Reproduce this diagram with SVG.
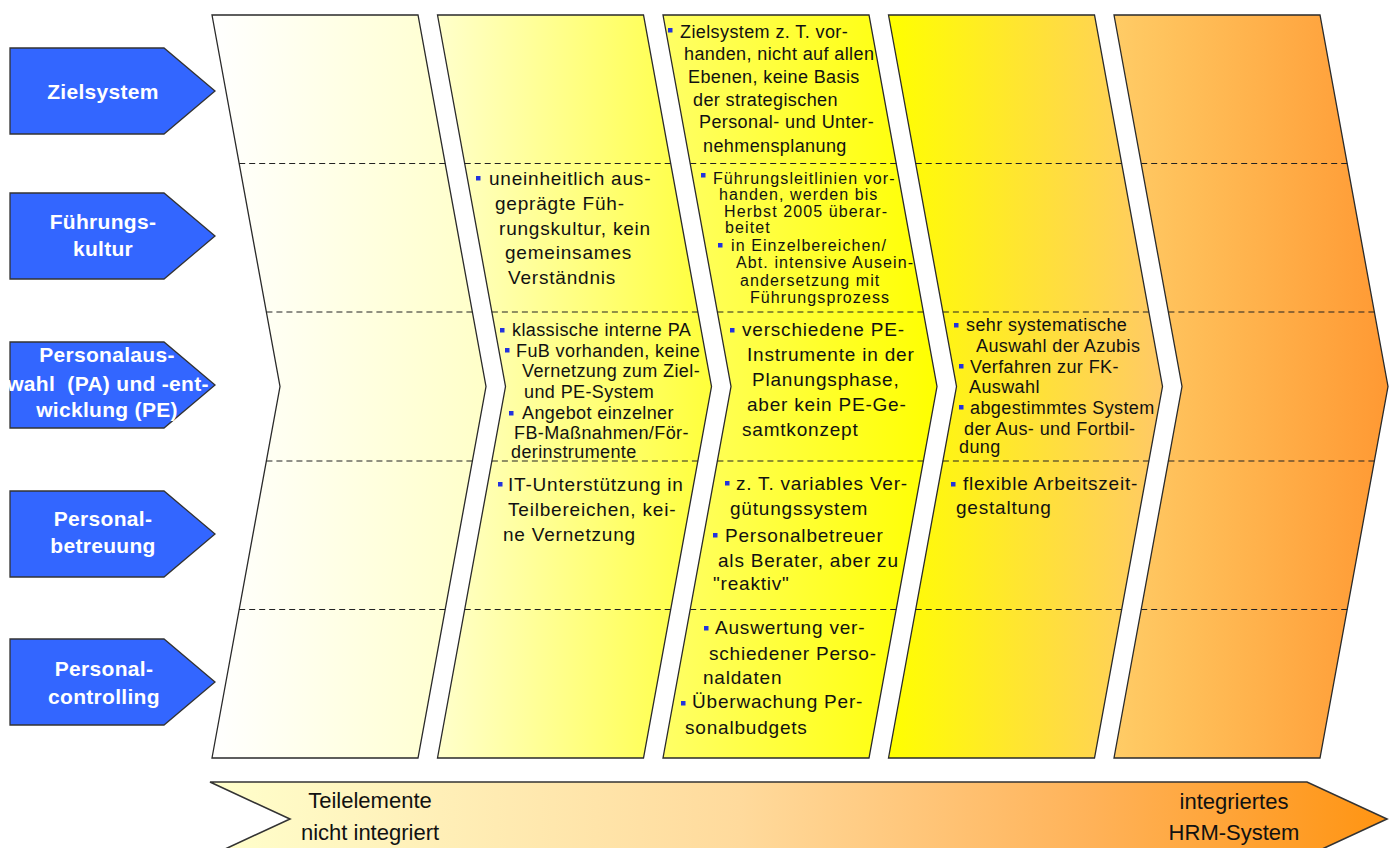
<svg xmlns="http://www.w3.org/2000/svg" width="1394" height="848" viewBox="0 0 1394 848">
<defs>
<linearGradient id="g1" x1="0" y1="0" x2="1" y2="0"><stop offset="0" stop-color="#FFFFFF"/><stop offset="1" stop-color="#FFFFC8"/></linearGradient>
<linearGradient id="g2" x1="0" y1="0" x2="1" y2="0"><stop offset="0" stop-color="#FFFFCC"/><stop offset="1" stop-color="#FFFF3A"/></linearGradient>
<linearGradient id="g3" x1="0" y1="0" x2="1" y2="0"><stop offset="0" stop-color="#FFFF66"/><stop offset="1" stop-color="#FFFF00"/></linearGradient>
<linearGradient id="g4" x1="0" y1="0" x2="1" y2="0"><stop offset="0" stop-color="#FFFF00"/><stop offset="1" stop-color="#FFC966"/></linearGradient>
<linearGradient id="g5" x1="0" y1="0" x2="1" y2="0"><stop offset="0" stop-color="#FFCC66"/><stop offset="1" stop-color="#FF9933"/></linearGradient>
<linearGradient id="gb" x1="0" y1="0" x2="1" y2="0"><stop offset="0" stop-color="#FFFFCC"/><stop offset="0.45" stop-color="#FFDA9C"/><stop offset="0.75" stop-color="#FFB258"/><stop offset="1" stop-color="#FF9412"/></linearGradient>
</defs>
<style>
.col{stroke:#2a2a2a;stroke-width:1.3}
.dash{stroke:#222;stroke-width:1.2;stroke-dasharray:6 4;fill:none}
.tag{fill:#3366FF;stroke:#333;stroke-width:1.3}
.tt{font-family:"Liberation Sans",Arial,sans-serif;font-weight:bold;font-size:21px;fill:#fff;text-anchor:middle;letter-spacing:0.3px}
.a{font-family:"Liberation Sans",Arial,sans-serif;font-size:18px;fill:#111;letter-spacing:0.4px}
.c{font-family:"Liberation Sans",Arial,sans-serif;font-size:19px;fill:#111;letter-spacing:0.8px}
.d{font-family:"Liberation Sans",Arial,sans-serif;font-size:16px;fill:#111;letter-spacing:1.1px}
.b{fill:#2233DD}
.bt{font-family:"Liberation Sans",Arial,sans-serif;font-size:22px;fill:#111;text-anchor:middle}
</style>

<g id="tag-zielsystem">
<polygon class="tag" points="10,48 164,48 215,91 164,134 10,134"/>
<text class="tt" x="103" y="99">Zielsystem</text>
</g>
<g id="tag-fuehrungskultur">
<polygon class="tag" points="10,193 164,193 215,236 164,279 10,279"/>
<text class="tt" x="103" y="229">Führungs-</text>
<text class="tt" x="103" y="256">kultur</text>
</g>
<g id="tag-personalauswahl">
<polygon class="tag" points="10,342 164,342 215,385 164,428 10,428"/>
<text class="tt" x="107" y="362">Personalaus-</text>
<text class="tt" x="108" y="391" style="white-space:pre">wahl  (PA) und -ent-</text>
<text class="tt" x="107" y="417">wicklung (PE)</text>
</g>
<g id="tag-personalbetreuung">
<polygon class="tag" points="10,491 164,491 215,534 164,577 10,577"/>
<text class="tt" x="103" y="526">Personal-</text>
<text class="tt" x="103" y="553">betreuung</text>
</g>
<g id="tag-personalcontrolling">
<polygon class="tag" points="10,639 164,639 215,682 164,725 10,725"/>
<text class="tt" x="104" y="676">Personal-</text>
<text class="tt" x="104" y="704">controlling</text>
</g>

<g id="col1">
<polygon class="col" fill="url(#g1)" points="212,15 418,15 486,386.5 418,758 212,758 280,386.5"/>
<line class="dash" x1="239.2" y1="163.5" x2="445.2" y2="163.5"/>
<line class="dash" x1="266.4" y1="312" x2="472.4" y2="312"/>
<line class="dash" x1="266.4" y1="461" x2="472.4" y2="461"/>
<line class="dash" x1="239.2" y1="609.5" x2="445.2" y2="609.5"/>
</g>

<g id="col2">
<polygon class="col" fill="url(#g2)" points="437.5,15 643.5,15 711.5,386.5 643.5,758 437.5,758 505.5,386.5"/>
<line class="dash" x1="464.7" y1="163.5" x2="670.7" y2="163.5"/>
<line class="dash" x1="491.9" y1="312" x2="697.9" y2="312"/>
<line class="dash" x1="491.9" y1="461" x2="697.9" y2="461"/>
<line class="dash" x1="464.7" y1="609.5" x2="670.7" y2="609.5"/>
<rect class="b" x="476" y="176" width="4.5" height="4.5"/>
<text class="c" x="489" y="185">uneinheitlich aus-</text>
<text class="c" x="495" y="210">geprägte Füh-</text>
<text class="c" x="499" y="235">rungskultur, kein</text>
<text class="c" x="505" y="259">gemeinsames</text>
<text class="c" x="508" y="284">Verständnis</text>
<rect class="b" x="500" y="328" width="4.5" height="4.5"/>
<text class="a" x="512" y="336">klassische interne PA</text>
<rect class="b" x="505" y="348" width="4.5" height="4.5"/>
<text class="a" x="516" y="357">FuB vorhanden, keine</text>
<text class="a" x="522" y="377">Vernetzung zum Ziel-</text>
<text class="a" x="524" y="398">und PE-System</text>
<rect class="b" x="509" y="411" width="4.5" height="4.5"/>
<text class="a" x="522" y="419">Angebot einzelner</text>
<text class="a" x="514" y="439">FB-Maßnahmen/För-</text>
<text class="a" x="511" y="458">derinstrumente</text>
<rect class="b" x="498" y="482" width="4.5" height="4.5"/>
<text class="c" x="508" y="491">IT-Unterstützung in</text>
<text class="c" x="508" y="516">Teilbereichen, kei-</text>
<text class="c" x="503" y="541">ne Vernetzung</text>
</g>

<g id="col3">
<polygon class="col" fill="url(#g3)" points="663,15 869,15 937,386.5 869,758 663,758 731,386.5"/>
<line class="dash" x1="690.2" y1="163.5" x2="896.2" y2="163.5"/>
<line class="dash" x1="717.4" y1="312" x2="923.4" y2="312"/>
<line class="dash" x1="717.4" y1="461" x2="923.4" y2="461"/>
<line class="dash" x1="690.2" y1="609.5" x2="896.2" y2="609.5"/>
<rect class="b" x="668" y="28" width="4.5" height="4.5"/>
<text class="a" x="680" y="38">Zielsystem z. T. vor-</text>
<text class="a" x="684" y="60">handen, nicht auf allen</text>
<text class="a" x="688" y="83">Ebenen, keine Basis</text>
<text class="a" x="693" y="106">der strategischen</text>
<text class="a" x="699" y="128">Personal- und Unter-</text>
<text class="a" x="703" y="152">nehmensplanung</text>
<rect class="b" x="701" y="173" width="4.5" height="4.5"/>
<text class="d" x="713" y="184">Führungsleitlinien vor-</text>
<text class="d" x="719" y="200">handen, werden bis</text>
<text class="d" x="724" y="217">Herbst 2005 überar-</text>
<text class="d" x="725" y="233">beitet</text>
<rect class="b" x="718" y="243" width="4.5" height="4.5"/>
<text class="d" x="731" y="251">in Einzelbereichen/</text>
<text class="d" x="736" y="268">Abt. intensive Ausein-</text>
<text class="d" x="740" y="286">andersetzung mit</text>
<text class="d" x="750" y="303">Führungsprozess</text>
<rect class="b" x="730" y="328" width="4.5" height="4.5"/>
<text class="c" x="742" y="336">verschiedene PE-</text>
<text class="c" x="747" y="361">Instrumente in der</text>
<text class="c" x="752" y="386">Planungsphase,</text>
<text class="c" x="747" y="411">aber kein PE-Ge-</text>
<text class="c" x="742" y="436">samtkonzept</text>
<rect class="b" x="725" y="481" width="4.5" height="4.5"/>
<text class="c" x="736" y="490">z. T. variables Ver-</text>
<text class="c" x="730" y="515">gütungssystem</text>
<rect class="b" x="713" y="533" width="4.5" height="4.5"/>
<text class="c" x="725" y="542">Personalbetreuer</text>
<text class="c" x="718" y="567">als Berater, aber zu</text>
<text class="c" x="713" y="590">"reaktiv"</text>
<rect class="b" x="704" y="626" width="4.5" height="4.5"/>
<text class="c" x="715" y="634">Auswertung ver-</text>
<text class="c" x="709" y="660">schiedener Perso-</text>
<text class="c" x="703" y="684">naldaten</text>
<rect class="b" x="681" y="701" width="4.5" height="4.5"/>
<text class="c" x="692" y="708">Überwachung Per-</text>
<text class="c" x="685" y="734">sonalbudgets</text>
</g>

<g id="col4">
<polygon class="col" fill="url(#g4)" points="888.5,15 1094.5,15 1162.5,386.5 1094.5,758 888.5,758 956.5,386.5"/>
<line class="dash" x1="915.7" y1="163.5" x2="1121.7" y2="163.5"/>
<line class="dash" x1="942.9" y1="312" x2="1148.9" y2="312"/>
<line class="dash" x1="942.9" y1="461" x2="1148.9" y2="461"/>
<line class="dash" x1="915.7" y1="609.5" x2="1121.7" y2="609.5"/>
<rect class="b" x="954" y="323" width="4.5" height="4.5"/>
<text class="a" x="966" y="331">sehr systematische</text>
<text class="a" x="976" y="352">Auswahl der Azubis</text>
<rect class="b" x="959" y="364" width="4.5" height="4.5"/>
<text class="a" x="970" y="373">Verfahren zur FK-</text>
<text class="a" x="969" y="393">Auswahl</text>
<rect class="b" x="959" y="405" width="4.5" height="4.5"/>
<text class="a" x="970" y="414">abgestimmtes System</text>
<text class="a" x="964" y="435">der Aus- und Fortbil-</text>
<text class="a" x="959" y="453">dung</text>
<rect class="b" x="951" y="482" width="4.5" height="4.5"/>
<text class="c" x="963" y="490">flexible Arbeitszeit-</text>
<text class="c" x="956" y="514">gestaltung</text>
</g>

<g id="col5">
<polygon class="col" fill="url(#g5)" points="1114,15 1320,15 1388,386.5 1320,758 1114,758 1182,386.5"/>
<line class="dash" x1="1141.2" y1="163.5" x2="1347.2" y2="163.5"/>
<line class="dash" x1="1168.4" y1="312" x2="1374.4" y2="312"/>
<line class="dash" x1="1168.4" y1="461" x2="1374.4" y2="461"/>
<line class="dash" x1="1141.2" y1="609.5" x2="1347.2" y2="609.5"/>
</g>

<g id="scale-arrow">
<polygon fill="url(#gb)" stroke="#333" stroke-width="1.6" points="210,782 1307,782 1387,819 1307,856 210,856 290,819"/>
<text class="bt" x="370" y="808">Teilelemente</text>
<text class="bt" x="370" y="840">nicht integriert</text>
<text class="bt" x="1234" y="809">integriertes</text>
<text class="bt" x="1234" y="840">HRM-System</text>
</g>

<g id="connectors"/>
</svg>
